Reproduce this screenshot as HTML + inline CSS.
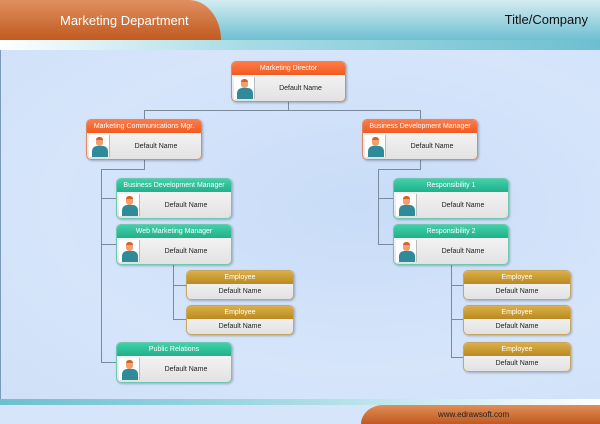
<!DOCTYPE html>
<html><head><meta charset="utf-8"><style>
*{margin:0;padding:0;box-sizing:border-box}
body{width:600px;height:424px;overflow:hidden;position:relative;font-family:"Liberation Sans",sans-serif;background:#cfe0f8}
.a{position:absolute}
.n{position:absolute;border-radius:5px;background:linear-gradient(#fbfbfb,#e2e2e2);box-shadow:1px 1px 2px rgba(0,0,0,.25);overflow:hidden}
.n .h{height:13px;color:#fff;font-size:7px;text-align:center;line-height:13px}
.n .b{position:absolute;left:0;right:0;top:13px;bottom:0;font-size:7px;color:#222;text-align:center}
.o{border:1px solid #e08860}.o .h{background:linear-gradient(#ff7a48,#f05a20)}
.g{border:1px solid #6cc8b0}.g .h{background:linear-gradient(#3fd1a8,#22b08a)}
.y{border:1px solid #c8a860}.y .h{background:linear-gradient(#dcae48,#b88a20);height:13px;line-height:13px}
.p{position:absolute;left:2px;top:15px;width:21px;bottom:2px;background:#fff;border-right:1px solid #bbb;overflow:hidden}
.p i{position:absolute;left:3px;bottom:0;width:16px;height:11px;background:#2f8a9a;border-radius:5px 5px 0 0}
.p u{position:absolute;left:7px;top:2px;width:7px;height:9px;background:#f0a070;border-radius:3px;border-top:3px solid #d86020}
</style></head><body>
<div class="a" style="left:0;top:0;width:600px;height:40px;background:linear-gradient(#d3ecf1,#6fbfd2)"></div>
<div class="a" style="left:0;top:0;width:221px;height:40px;background:linear-gradient(#e09060,#c05a20);border-top-right-radius:32px 40px"></div>
<div class="a" style="left:0;top:40px;width:600px;height:10px;background:linear-gradient(90deg,#fff,#a8dce6 40%,#6dbfd0)"></div>
<div class="a" style="left:60px;top:13px;color:#fff;font-size:13px">Marketing Department</div>
<div class="a" style="right:12px;top:12px;color:#111;font-size:13px">Title/Company</div>
<div class="a" style="left:0;top:50px;width:600px;height:349px;background:radial-gradient(ellipse at 60% 45%,#c8dcf8,#d6e5fa 60%,#cfe0f8)"></div>
<div class="a" style="left:0;top:50px;width:1px;height:374px;background:#7a9ab8"></div>
<div class="a" style="left:0;top:399px;width:600px;height:6px;background:linear-gradient(90deg,#6dbfd0,#a8dce6 50%,#fff)"></div>
<div class="a" style="left:0;top:405px;width:600px;height:19px;background:#d6e5fa"></div>
<div class="a" style="left:361px;top:405px;width:239px;height:19px;background:linear-gradient(#e08e58,#c05a20);border-top-left-radius:22px 19px"></div>
<div class="a" style="left:438px;top:410px;font-size:8px;color:#222">www.edrawsoft.com</div>
<svg class="a" style="left:0;top:0" width="600" height="424"><g stroke="#7a8a9a" stroke-width="1" fill="none">
<path d="M288.5 102V110.5H144.5V119M288.5 110.5H420.5V119"/>
<path d="M144.5 159V169.5H101.5V362.5H116M101.5 198.5H116M101.5 244.5H116"/>
<path d="M173.5 264V319.5H186M173.5 285.5H186"/>
<path d="M420.5 159V169.5H378.5V244.5H393M378.5 198.5H393"/>
<path d="M451.5 264V357.5H463M451.5 285.5H463M451.5 319.5H463"/>
</g></svg>
<div class="n o" style="left:231px;top:61px;width:115px;height:41px"><div class="h">Marketing Director</div><div class="p"><u></u><i></i></div><div class="b" style="left:24px;line-height:28px">Default Name</div></div>
<div class="n o" style="left:86px;top:119px;width:116px;height:41px"><div class="h">Marketing Communications Mgr.</div><div class="p"><u></u><i></i></div><div class="b" style="left:24px;line-height:28px">Default Name</div></div>
<div class="n o" style="left:362px;top:119px;width:116px;height:41px"><div class="h">Business Development Manager</div><div class="p"><u></u><i></i></div><div class="b" style="left:24px;line-height:28px">Default Name</div></div>
<div class="n g" style="left:116px;top:178px;width:116px;height:41px"><div class="h">Business Development Manager</div><div class="p"><u></u><i></i></div><div class="b" style="left:24px;line-height:28px">Default Name</div></div>
<div class="n g" style="left:116px;top:224px;width:116px;height:41px"><div class="h">Web Marketing Manager</div><div class="p"><u></u><i></i></div><div class="b" style="left:24px;line-height:28px">Default Name</div></div>
<div class="n g" style="left:116px;top:342px;width:116px;height:41px"><div class="h">Public Relations</div><div class="p"><u></u><i></i></div><div class="b" style="left:24px;line-height:28px">Default Name</div></div>
<div class="n g" style="left:393px;top:178px;width:116px;height:41px"><div class="h">Responsibility 1</div><div class="p"><u></u><i></i></div><div class="b" style="left:24px;line-height:28px">Default Name</div></div>
<div class="n g" style="left:393px;top:224px;width:116px;height:41px"><div class="h">Responsibility 2</div><div class="p"><u></u><i></i></div><div class="b" style="left:24px;line-height:28px">Default Name</div></div>
<div class="n y" style="left:186px;top:270px;width:108px;height:30px"><div class="h">Employee</div><div class="b" style="top:13px;line-height:16px">Default Name</div></div>
<div class="n y" style="left:186px;top:305px;width:108px;height:30px"><div class="h">Employee</div><div class="b" style="top:13px;line-height:16px">Default Name</div></div>
<div class="n y" style="left:463px;top:270px;width:108px;height:30px"><div class="h">Employee</div><div class="b" style="top:13px;line-height:16px">Default Name</div></div>
<div class="n y" style="left:463px;top:305px;width:108px;height:30px"><div class="h">Employee</div><div class="b" style="top:13px;line-height:16px">Default Name</div></div>
<div class="n y" style="left:463px;top:342px;width:108px;height:30px"><div class="h">Employee</div><div class="b" style="top:13px;line-height:16px">Default Name</div></div>
</body></html>
